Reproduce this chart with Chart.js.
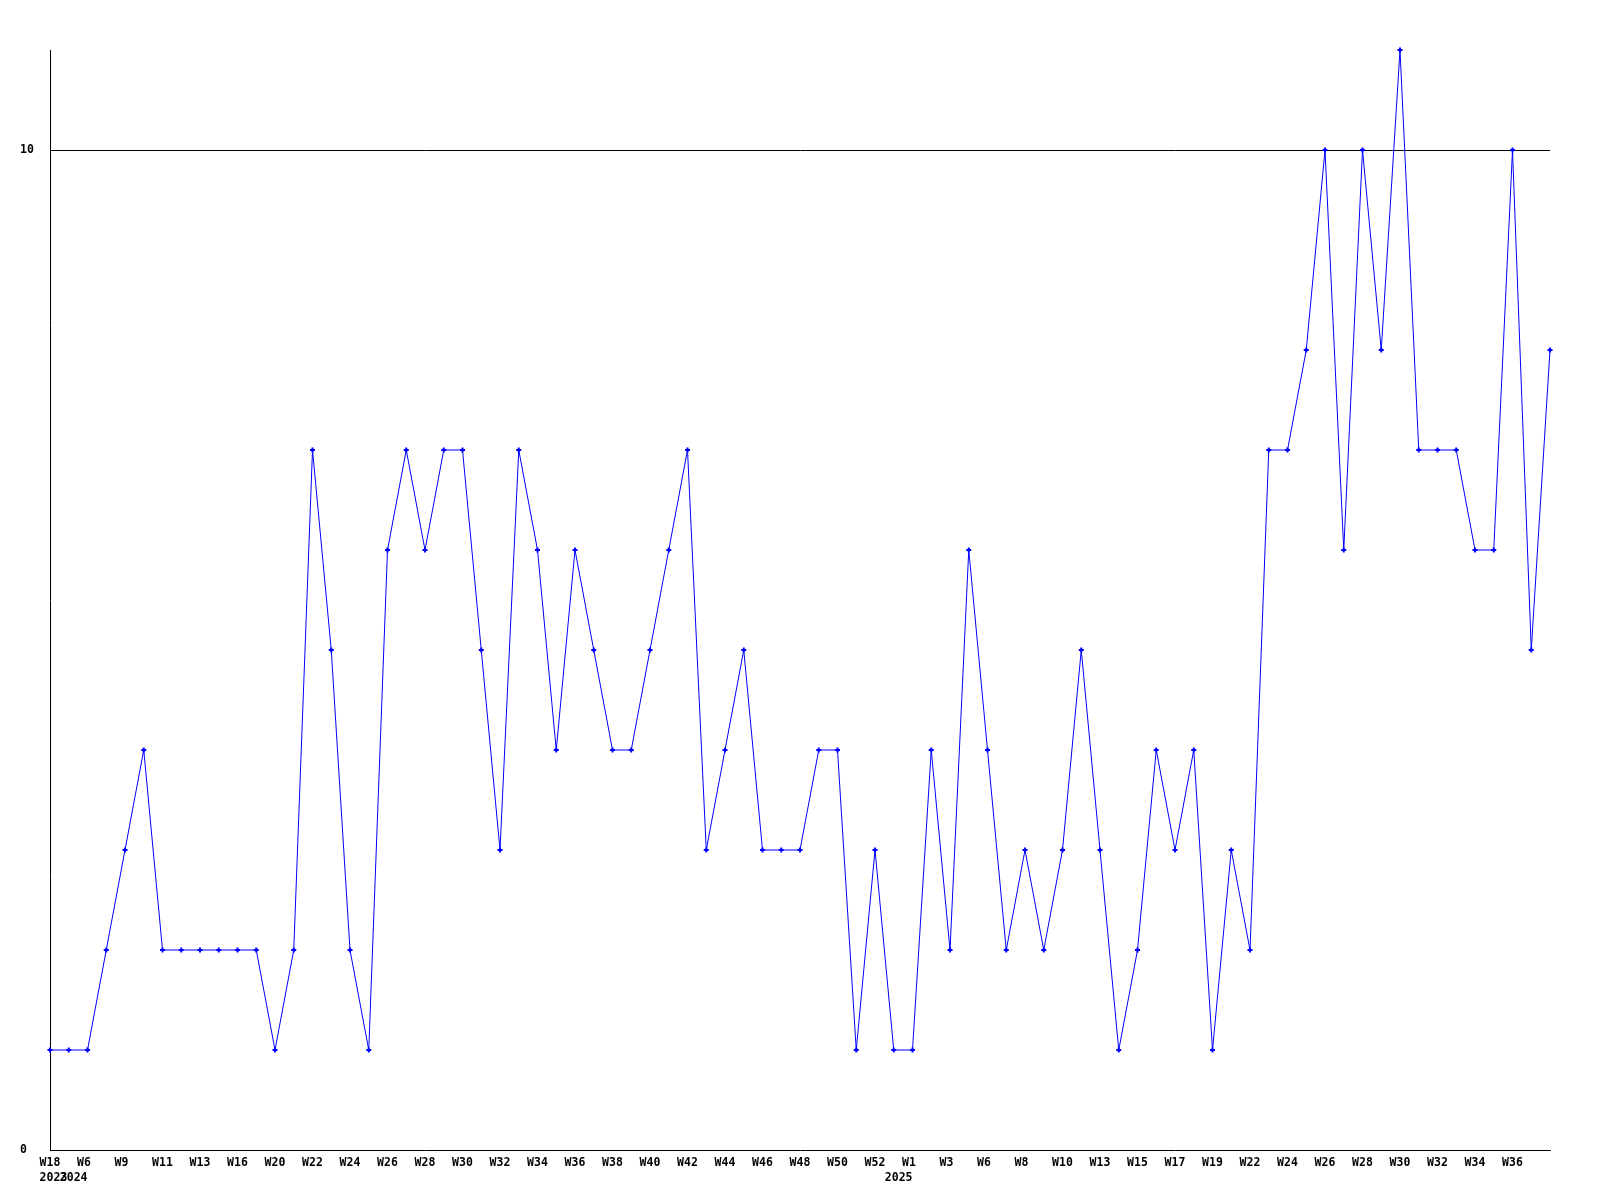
<!DOCTYPE html>
<html><head><meta charset="utf-8">
<script src="https://cdn.jsdelivr.net/npm/chart.js@4/dist/chart.umd.min.js"></script>
<style>html,body{margin:0;padding:0;background:#fff;}canvas{display:block;}</style>
</head><body>
<canvas id="c" width="1600" height="1200"></canvas>
<script>
const weeks = [
  'W18','W5','W6','W7','W9','W10','W11','W12','W13','W14',
  'W16','W18','W20','W21','W22','W23','W24','W25','W26','W27',
  'W28','W29','W30','W31','W32','W33','W34','W35','W36','W37',
  'W38','W39','W40','W41','W42','W43','W44','W45','W46','W47',
  'W48','W49','W50','W51','W52','W53','W1','W2','W3','W5',
  'W6','W7','W8','W9','W10','W12','W13','W14','W15','W16',
  'W17','W18','W19','W21','W22','W23','W24','W25','W26','W27',
  'W28','W29','W30','W31','W32','W33','W34','W35','W36','W37',
  'W38'
];
const years = [
  '2023','2024','2024','2024','2024','2024','2024','2024','2024','2024',
  '2024','2024','2024','2024','2024','2024','2024','2024','2024','2024',
  '2024','2024','2024','2024','2024','2024','2024','2024','2024','2024',
  '2024','2024','2024','2024','2024','2024','2024','2024','2024','2024',
  '2024','2024','2024','2024','2024','2024','2025','2025','2025','2025',
  '2025','2025','2025','2025','2025','2025','2025','2025','2025','2025',
  '2025','2025','2025','2025','2025','2025','2025','2025','2025','2025',
  '2025','2025','2025','2025','2025','2025','2025','2025','2025','2025',
  '2025'
];
const values = [
  1,1,1,2,3,4,2,2,2,2,
  2,2,1,2,7,5,2,1,6,7,
  6,7,7,5,3,7,6,4,6,5,
  4,4,5,6,7,3,4,5,3,3,
  3,4,4,1,3,1,1,4,2,6,
  4,2,3,2,3,5,3,1,2,4,
  3,4,1,3,2,7,7,8,10,6,
  10,8,11,7,7,7,6,6,10,5,
  8
];
const yTicks = [0, 10];
const yMax = 11;

const FONT = {family: '"DejaVu Sans Mono", monospace', size: 11.5, weight: 'bold', lineHeight: 1.3};

new Chart(document.getElementById('c'), {
  type: 'line',
  data: {
    labels: weeks,
    datasets: [{
      data: values,
      borderColor: '#0000ff',
      backgroundColor: '#0000ff',
      borderWidth: 1,
      tension: 0,
      fill: false,
      clip: false,
      pointStyle: 'cross',
      pointRadius: 2.5,
      pointBorderWidth: 2,
      pointBorderColor: '#0000ff'
    }]
  },
  options: {
    responsive: false,
    animation: false,
    devicePixelRatio: 1,
    layout: {padding: {left: 20, top: 50, right: 50, bottom: 0}},
    plugins: {legend: {display: false}, tooltip: {enabled: false}},
    scales: {
      x: {
        offset: false,
        grid: {display: false, drawTicks: false},
        border: {display: true, color: '#000', width: 1},
        afterFit: s => { s.height = 50; },
        ticks: {
          autoSkip: false, maxRotation: 0, minRotation: 0,
          padding: 6, color: '#000', font: FONT,
          callback: function(value, index) {
            if (index % 2 !== 0 || index >= weeks.length - 1) return '';
            const w = weeks[index];
            const wLine = w.length < 3 ? w + ' ' : w;
            const prev = index >= 2 ? years[index - 2] : null;
            if (years[index] !== prev) {
              const yLine = index === 0 ? ' ' + years[index] : years[index] + '    ';
              return [wLine, yLine];
            }
            return wLine;
          }
        }
      },
      y: {
        min: 0, max: yMax,
        afterBuildTicks: s => { s.ticks = yTicks.map(v => ({value: v})); },
        afterFit: s => { s.width = 30; },
        grid: {
          drawTicks: false,
          color: ctx => (ctx.tick && ctx.tick.value === 10) ? '#000' : 'rgba(0,0,0,0)',
          lineWidth: 1
        },
        border: {display: true, color: '#000', width: 1},
        ticks: {crossAlign: 'far', padding: 0, color: '#000', font: FONT}
      }
    }
  }
});
</script>
</body></html>
